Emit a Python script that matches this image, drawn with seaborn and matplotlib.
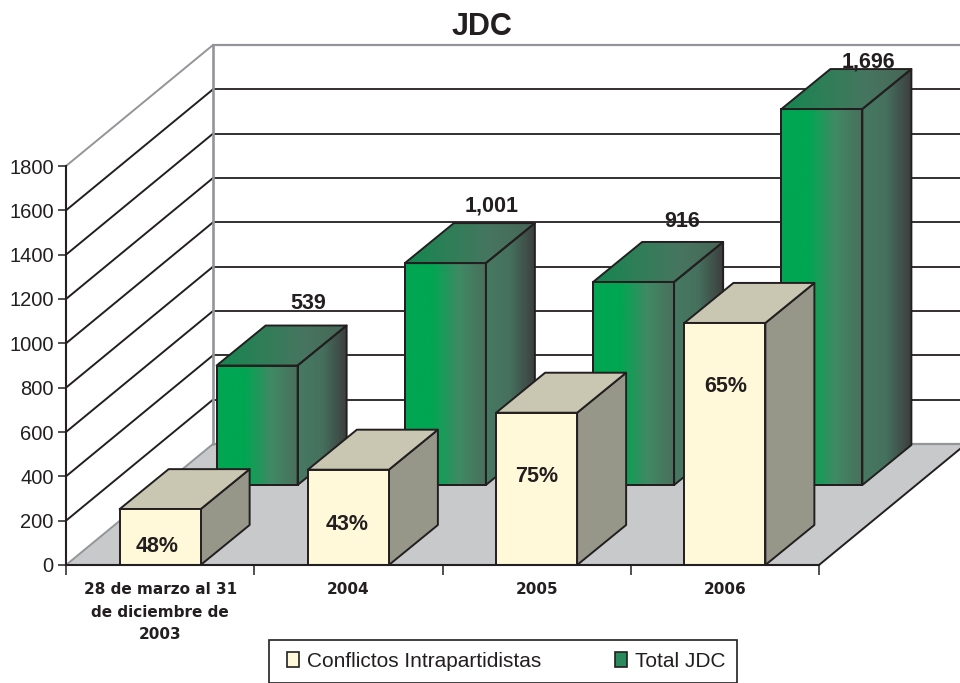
import numpy as np
import pandas as pd
import matplotlib
matplotlib.use("Agg")
import matplotlib.pyplot as plt
from matplotlib.colors import LinearSegmentedColormap
from matplotlib.patches import Polygon
import seaborn as sns

# ---------- data ----------
periodos = ["28 de marzo al 31\nde diciembre de\n2003", "2004", "2005", "2006"]
conflictos = [252, 430, 687, 1092]
total_jdc = [539, 1001, 916, 1696]
porcentajes = ["48%", "43%", "75%", "65%"]
etiquetas_total = ["539", "1,001", "916", "1,696"]

# ---------- layout (pixels of the 960x683 canvas) ----------
W, H = 960, 683
AX_L, AX_R, AX_T, AX_B = 66, 819, 166, 565
WALL_DX, WALL_DY = 147, 121
ROW_DX, ROW_DY = 97, 80
BAR_DX, BAR_DY = 49, 40
PCT_Y_OFF = [18, 41, 88, 179]          # pixels above the base of the bar
PCT_X_OFF = [-3, -1, 0, 1]
TOT_X_OFF = [51, 46, 49, 47]
TOT_Y_OFF = [62, 57, 60, 47]

INK = "#231f20"
GRAY = "#939598"
FLOOR = "#c8c9cb"
sns.set_theme(style="white")
plt.rcParams["font.family"] = ["Liberation Sans", "DejaVu Sans"]
plt.rcParams["text.color"] = INK
plt.rcParams["axes.labelcolor"] = INK
plt.rcParams["xtick.color"] = INK
plt.rcParams["ytick.color"] = INK

fig = plt.figure(figsize=(W / 100, H / 100), dpi=100, facecolor="white")
ax = fig.add_axes([AX_L / W, 1 - AX_B / H, (AX_R - AX_L) / W, (AX_B - AX_T) / H])

df = pd.DataFrame({
    "periodo": periodos * 2,
    "valor": total_jdc + conflictos,
    "serie": ["Total JDC"] * 4 + ["Conflictos Intrapartidistas"] * 4,
})
sns.barplot(data=df, x="periodo", y="valor", hue="serie", dodge=False, width=81 / 188.25,
            hue_order=["Total JDC", "Conflictos Intrapartidistas"], saturation=1,
            palette={"Total JDC": "#2a8a5c", "Conflictos Intrapartidistas": "#fff9d9"},
            edgecolor=INK, linewidth=1.4, ax=ax, legend=True)
handles, labels = ax.get_legend_handles_labels()
XLIM, YLIM = (-0.5, 3.5), (0, 1800)
SX = (XLIM[1] - XLIM[0]) / (AX_R - AX_L)
SY = (YLIM[1] - YLIM[0]) / (AX_B - AX_T)


def grad_face(pts, colors, x0, x1, z):
    """Polygon face filled with a horizontal gradient, clipped to its shape."""
    poly = Polygon(pts, closed=True, facecolor="none", edgecolor=INK, linewidth=1.4,
                   zorder=z + 0.01, clip_on=False, joinstyle="round")
    ax.add_patch(poly)
    ys = [p[1] for p in pts]
    cmap = LinearSegmentedColormap.from_list("g", colors)
    im = ax.imshow(np.linspace(0, 1, 256)[None, :], extent=[x0, x1, min(ys), max(ys)],
                   cmap=cmap, aspect="auto", zorder=z, interpolation="bilinear")
    im.set_clip_box(fig.bbox)
    im.set_clip_path(poly)


def flat_face(pts, color, z):
    ax.add_patch(Polygon(pts, closed=True, facecolor=color, edgecolor=INK, linewidth=1.4,
                         zorder=z, clip_on=False, joinstyle="round"))


ddx, ddy = BAR_DX * SX, BAR_DY * SY

# walls and floor
wx, wy = WALL_DX * SX, WALL_DY * SY
xr = XLIM[1] + wx
ax.add_patch(Polygon([(XLIM[0], 0), (XLIM[0] + wx, wy), (xr + 1, wy), (XLIM[1] + wx, wy), (XLIM[1], 0)],
                     closed=True, facecolor=FLOOR, edgecolor="none", zorder=0.5, clip_on=False))
ax.plot([XLIM[1], xr], [0, wy], color=INK, lw=1.4, zorder=0.8, clip_on=False)
yticks = np.arange(0, 2000, 200)
for v in yticks:
    c = GRAY if v in (0, 1800) else INK
    ax.plot([XLIM[0], XLIM[0] + wx], [v, v + wy], color=c, lw=1.4, zorder=0.7, clip_on=False)
    ax.plot([XLIM[0] + wx, xr + 1], [v + wy, v + wy], color=c, lw=1.6 if c == GRAY else 1.3,
            zorder=0.7, clip_on=False)
ax.plot([XLIM[0] + wx] * 2, [wy, 1800 + wy], color=GRAY, lw=1.9, zorder=0.75, clip_on=False)

# back row: Total JDC
for i, bar in enumerate(ax.containers[0]):
    bar.set_x(bar.get_x() + ROW_DX * SX)
    bar.set_y(ROW_DY * SY)
    bar.set_facecolor("none")
    bar.set_clip_on(False)
    bar.set_zorder(3.02)
    x0, x1 = bar.get_x(), bar.get_x() + bar.get_width()
    y0, y1 = bar.get_y(), bar.get_y() + bar.get_height()
    grad_face([(x0, y0), (x1, y0), (x1, y1), (x0, y1)],
              ["#00a651", "#00a651", "#3f8a64", "#4a6f5c"], x0, x1, 3)
    grad_face([(x1, y0), (x1 + ddx, y0 + ddy), (x1 + ddx, y1 + ddy), (x1, y1)],
              ["#477a62", "#45705d", "#3c3f3f"], x1, x1 + ddx, 3)
    grad_face([(x0, y1), (x1, y1), (x1 + ddx, y1 + ddy), (x0 + ddx, y1 + ddy)],
              ["#13864f", "#2f7f58", "#477560", "#466656"], x0, x1 + ddx, 3)
    ax.text(x0 + bar.get_width() / 2 + TOT_X_OFF[i] * SX, y1 + TOT_Y_OFF[i] * SY, etiquetas_total[i],
            ha="center", va="center", fontsize=15.5, fontweight="bold", color=INK, zorder=8)

# front row: Conflictos
for i, bar in enumerate(ax.containers[1]):
    bar.set_clip_on(False)
    bar.set_zorder(4.02)
    x0, x1 = bar.get_x(), bar.get_x() + bar.get_width()
    y1 = bar.get_height()
    flat_face([(x1, 0), (x1 + ddx, ddy), (x1 + ddx, y1 + ddy), (x1, y1)], "#969689", 4)
    flat_face([(x0, y1), (x1, y1), (x1 + ddx, y1 + ddy), (x0 + ddx, y1 + ddy)], "#c9c7b1", 4)
    ax.text(x0 + bar.get_width() / 2 + PCT_X_OFF[i] * SX, PCT_Y_OFF[i] * SY, porcentajes[i],
            ha="center", va="center", fontsize=15.5, fontweight="bold", color=INK, zorder=8)

# axes
ax.set_xlim(*XLIM)
ax.set_ylim(*YLIM)
ax.set_xlabel("")
ax.set_ylabel("")
ax.set_yticks(yticks)
ax.set_xticks(np.arange(-0.5, 4, 1), minor=True)
ax.tick_params(axis="y", which="major", left=True, length=5.8, width=1.1, labelsize=14.5, pad=3)
ax.tick_params(axis="x", which="major", bottom=False, length=0, labelsize=11, pad=12.5)
ax.tick_params(axis="x", which="minor", bottom=True, length=7.2, width=1.1)
for lab in ax.get_xticklabels():
    lab.set_fontfamily("DejaVu Sans")
    lab.set_fontweight("bold")
    lab.set_linespacing(1.6)
sns.despine(ax=ax, top=True, right=True)
for s in ("left", "bottom"):
    ax.spines[s].set_color(INK)
    ax.spines[s].set_linewidth(1.5)
    ax.spines[s].set_zorder(7)
ax.patch.set_visible(False)

fig.text(482 / W, 1 - 27 / H, "JDC", ha="center", va="center", fontsize=22, fontweight="bold", color=INK)

# legend in the reference order
order = [labels.index("Conflictos Intrapartidistas"), labels.index("Total JDC")]
leg = ax.legend([handles[k] for k in order], [labels[k] for k in order], ncol=2, mode="expand",
                loc="lower left", bbox_to_anchor=(269 / W, 0.5 / H, 468 / W, 42 / H),
                bbox_transform=fig.transFigure, borderaxespad=0, fontsize=15, frameon=True,
                fancybox=False, edgecolor=INK, framealpha=1, handlelength=1.0, handleheight=0.75,
                handletextpad=0.25, borderpad=0.56, columnspacing=1.0, title=None)
leg.get_frame().set_linewidth(1.2)
leg.set_zorder(9)
for t in leg.get_texts():
    t.set_color(INK)
for p in leg.get_patches():
    p.set_x(p.get_x() + 4.5)
    p.set_width(8.8)
    p.set_edgecolor(INK)
    p.set_linewidth(1.2)

fig.savefig("out.png", dpi=100, facecolor="white")
